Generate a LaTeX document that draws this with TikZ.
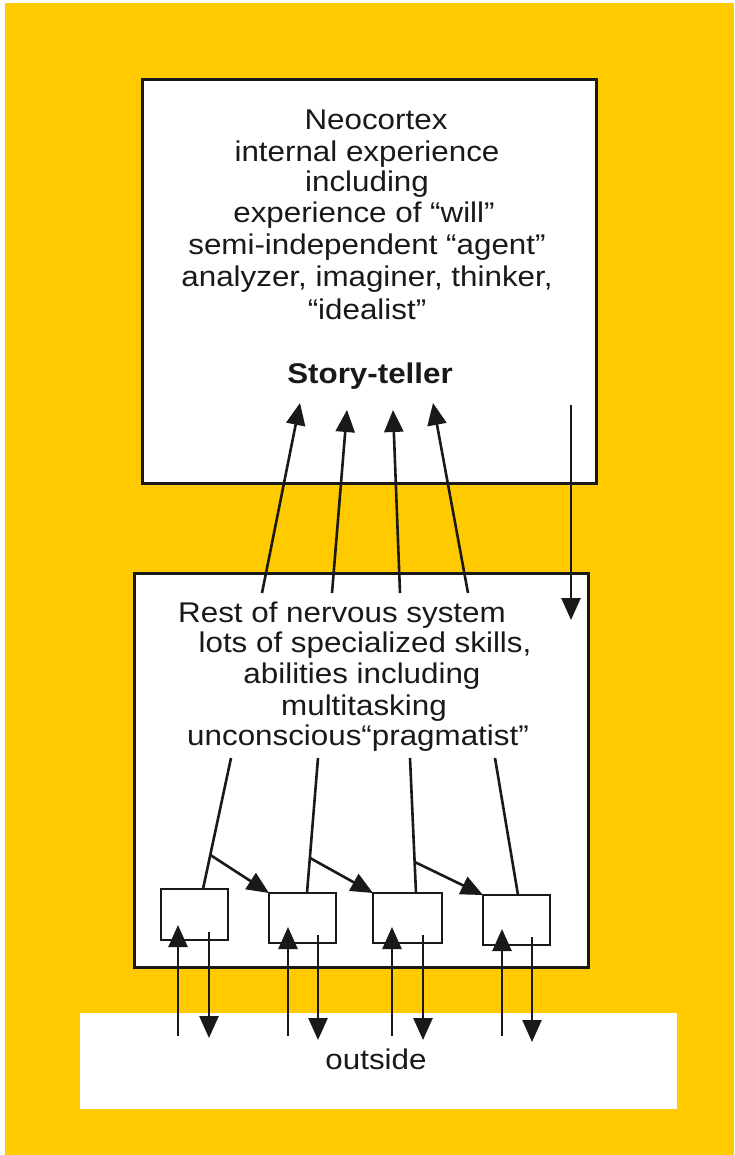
\documentclass[tikz,border=0pt]{standalone}
\usepackage{fontspec}
\setmainfont{Liberation Sans}[FakeStretch=1.1]
\usetikzlibrary{arrows.meta,calc}
\definecolor{bg}{RGB}{255,202,0}
\definecolor{ink}{RGB}{25,25,25}
\tikzset{
  txt/.style={anchor=base, inner sep=0pt, text=ink, font=\fontsize{28.5}{31}\selectfont},
  bigbox/.style={draw=ink, line width=3pt, fill=white, inner sep=0pt, outer sep=0pt},
  smallbox/.style={draw=ink, line width=2.6pt, fill=white, inner sep=0pt, outer sep=0pt, minimum width=67pt, minimum height=50pt},
  conn/.style={draw=ink, line width=2.6pt},
  arr/.style={conn, -{Triangle[length=22pt,width=19pt]}},
}
\begin{document}
\begin{tikzpicture}[x=1pt,y=-1pt]
\useasboundingbox (0,0) rectangle (734,1155);
\fill[white] (0,0) rectangle (734,1155);
\fill[bg] (5,3) rectangle (734,1155);

% boxes
\node[bigbox, minimum width=454pt, minimum height=403pt] (top) at (369,281.5) {};
\node[bigbox, minimum width=454pt, minimum height=394pt] (low) at (361,770) {};
\node[fill=white, inner sep=0pt, minimum width=597pt, minimum height=96pt] (out) at (378,1061) {};
\node[txt] (outlbl) at (376,1069) {outside};

% top text
\node[txt] (t1) at (376,130) {Neocortex};
\node[txt] (t2) at (367,162) {internal experience};
\node[txt] (t3) at (367,192) {including};
\node[txt] (t4) at (364,223) {experience of ``will''};
\node[txt] (t5) at (367,255) {semi-independent ``agent''};
\node[txt] (t6) at (367,287) {analyzer, imaginer, thinker,};
\node[txt] (t7) at (367,319) {``idealist''};
\node[txt] (t8) at (370,383) {\bfseries Story-teller};

% lower text
\node[txt] (l1) at (342,622) {Rest of nervous system};
\node[txt] (l2) at (365,652) {lots of specialized skills,};
\node[txt] (l3) at (362,683) {abilities including};
\node[txt] (l4) at (364,715) {multitasking};
\node[txt] (l5) at (358,745) {unconscious``pragmatist''};

% small boxes
\node[smallbox, minimum width=67pt, minimum height=51pt] (b1) at (194.5,914.5) {};
\node[smallbox] (b2) at (302.5,918) {};
\node[smallbox, minimum width=69pt] (b3) at (407.5,918) {};
\node[smallbox] (b4) at (516.5,920) {};

% up arrows to story-teller
\coordinate (u1s) at (262,593); \coordinate (u1e) at (300,403);
\coordinate (u2s) at (332,593); \coordinate (u2e) at (347,410);
\coordinate (u3s) at (400,593); \coordinate (u3e) at (393,410);
\coordinate (u4s) at (468,593); \coordinate (u4e) at (433,403);
\draw[arr] (u1s) -- (u1e);
\draw[arr] (u2s) -- (u2e);
\draw[arr] (u3s) -- (u3e);
\draw[arr] (u4s) -- (u4e);
\coordinate (ds) at (571,405); \coordinate (de) at (571,620);
\draw[arr] (ds) -- (de);

% lines from text down to small boxes
\coordinate (s1) at (231,758); \coordinate (e1) at (203,889);
\coordinate (s2) at (318,758); \coordinate (e2) at (307,893);
\coordinate (s3) at (410,758); \coordinate (e3) at (416,893);
\coordinate (s4) at (495,758); \coordinate (e4) at (518,895);
\draw[conn] (s1) -- (e1);
\draw[conn] (s2) -- (e2);
\draw[conn] (s3) -- (e3);
\draw[conn] (s4) -- (e4);
\draw[arr] ($(s1)!0.74!(e1)$) -- (b2.north west);
\draw[arr] ($(s2)!0.74!(e2)$) -- (b3.north west);
\draw[arr] ($(s3)!0.77!(e3)$) -- (b4.north west);

% arrows to/from outside
\coordinate (o1) at (178,1036); \coordinate (i1) at (178,925);
\coordinate (o2) at (288,1036); \coordinate (i2) at (288,927);
\coordinate (o3) at (392,1036); \coordinate (i3) at (392,927);
\coordinate (o4) at (502,1036); \coordinate (i4) at (502,929);
\draw[arr] (o1) -- (i1);
\draw[arr] (o2) -- (i2);
\draw[arr] (o3) -- (i3);
\draw[arr] (o4) -- (i4);
\coordinate (p1) at (209,932); \coordinate (q1) at (209,1038);
\coordinate (p2) at (318,935); \coordinate (q2) at (318,1040);
\coordinate (p3) at (423,935); \coordinate (q3) at (423,1040);
\coordinate (p4) at (532,937); \coordinate (q4) at (532,1042);
\draw[arr] (p1) -- (q1);
\draw[arr] (p2) -- (q2);
\draw[arr] (p3) -- (q3);
\draw[arr] (p4) -- (q4);
\end{tikzpicture}
\end{document}
